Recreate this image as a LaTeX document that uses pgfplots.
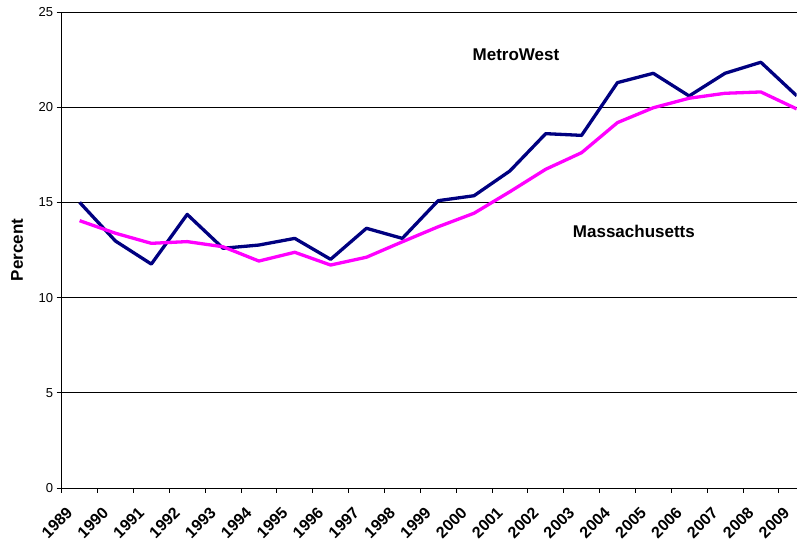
\documentclass[border=0pt]{standalone}
\usepackage{fontspec}
\setmainfont{Liberation Sans}
\usepackage{pgfplots}
\pgfplotsset{compat=1.18}
\definecolor{mwnavy}{RGB}{0,0,128}
\definecolor{mamag}{RGB}{255,0,255}
\begin{document}
\begin{tikzpicture}
\useasboundingbox (-61.7pt,-57pt) rectangle (742.3pt,488pt);
\begin{axis}[
  at={(0pt,0pt)}, anchor=south west,
  scale only axis, width=735pt, height=476pt,
  xmin=0, xmax=20.5, ymin=0, ymax=25,
  axis x line*=bottom, axis y line*=left,
  xtick={0,...,20},
  xticklabels={1989,1990,1991,1992,1993,1994,1995,1996,1997,1998,1999,2000,2001,2002,2003,2004,2005,2006,2007,2008,2009},
  xticklabel style={font=\bfseries\fontsize{16}{18}\selectfont, inner sep=0pt, xshift=8pt, yshift=-17pt, rotate=45, anchor=east},
  ytick={0,5,...,25},
  yticklabel style={font=\fontsize{13}{15}\selectfont},
  /pgf/number format/assume math mode=true,
  ymajorgrids, grid style={black, line width=0.8pt},
  tick align=outside, major tick length=5pt,
  tick style={black, line width=0.8pt},
  axis line style={black, line width=0.8pt},
  ylabel={Percent},
  ylabel style={font=\bfseries\fontsize{17}{19}\selectfont, at={(axis description cs:-0.0608,0.5)}, anchor=center},
]
\addplot[mwnavy, line width=3.3pt, line join=round] coordinates {
(0.5,15.0) (1.5,12.97) (2.5,11.76) (3.5,14.37) (4.5,12.59) (5.5,12.76) (6.5,13.11)
(7.5,12.01) (8.5,13.64) (9.5,13.11) (10.5,15.09) (11.5,15.35) (12.5,16.65) (13.5,18.61)
(14.5,18.52) (15.5,21.29) (16.5,21.78) (17.5,20.59) (18.5,21.78) (19.5,22.36) (20.5,20.60)
};
\addplot[mamag, line width=3.3pt, line join=round] coordinates {
(0.5,14.04) (1.5,13.38) (2.5,12.85) (3.5,12.94) (4.5,12.67) (5.5,11.92) (6.5,12.38)
(7.5,11.71) (8.5,12.12) (9.5,12.93) (10.5,13.72) (11.5,14.43) (12.5,15.56) (13.5,16.74)
(14.5,17.61) (15.5,19.19) (16.5,19.97) (17.5,20.47) (18.5,20.73) (19.5,20.80) (20.5,19.91)
};
\node[font=\bfseries\fontsize{17}{19}\selectfont] at (axis cs:12.67,22.74) {MetroWest};
\node[font=\bfseries\fontsize{17}{19}\selectfont] at (axis cs:15.96,13.50) {Massachusetts};
\end{axis}
\end{tikzpicture}
\end{document}
